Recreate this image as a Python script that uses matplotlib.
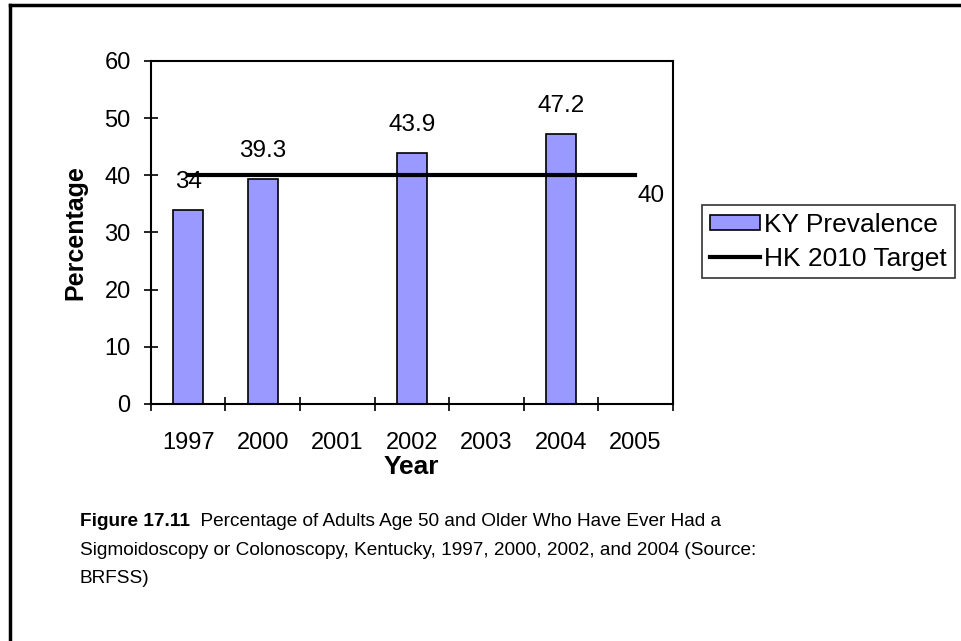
import matplotlib.pyplot as plt
import numpy as np

plt.rcParams['font.family'] = ['Liberation Sans', 'DejaVu Sans']

years = ['1997', '2000', '2001', '2002', '2003', '2004', '2005']
prevalence = [34, 39.3, None, 43.9, None, 47.2, None]
target = [40, 40, 40, 40, 40, 40, 40]
caption_bold = 'Figure 17.11'
caption_rest = '  Percentage of Adults Age 50 and Older Who Have Ever Had a'
caption_lines = ['Sigmoidoscopy or Colonoscopy, Kentucky, 1997, 2000, 2002, and 2004 (Source:',
                 'BRFSS)']

fig = plt.figure(figsize=(9.61, 6.41), dpi=100)

# outer frame (only top and left visible)
fig.add_artist(plt.Line2D([0.0105, 0.0105], [0, 0.992], color='black', lw=2.5))
fig.add_artist(plt.Line2D([0.0105, 1.0], [0.992, 0.992], color='black', lw=2.5))

ax = fig.add_axes([0.157, 0.370, 0.543, 0.535])
x = np.arange(len(years))

bar_x = [i for i, v in enumerate(prevalence) if v is not None]
bar_v = [v for v in prevalence if v is not None]
bars = ax.bar(bar_x, bar_v, width=0.4, color='#9999FF', edgecolor='black',
              linewidth=1.2, label='KY Prevalence', zorder=2)
line, = ax.plot(x, target, color='black', lw=3, label='HK 2010 Target', zorder=3)

for bx, bv in zip(bar_x, bar_v):
    lbl = str(int(bv)) if bv == int(bv) else str(bv)
    ax.annotate(lbl, (bx, bv), xytext=(0, 20), textcoords='offset points',
                ha='center', va='center', fontsize=17.5)
ax.annotate(str(target[-1]), (x[-1], target[-1]), xytext=(11.5, -15),
            textcoords='offset points', ha='center', va='center', fontsize=17.5)

ax.set_xlim(-0.5, len(years) - 0.5)
ax.set_ylim(0, 60)
ax.set_yticks(range(0, 61, 10))
ax.set_xticks(np.arange(-0.5, len(years), 1.0))
ax.set_xticklabels([])
ax.set_xticks(x, minor=True)
ax.set_xticklabels(years, minor=True)
ax.tick_params(axis='x', which='major', direction='inout', length=10, width=1.2)
ax.tick_params(axis='x', which='minor', length=0, pad=20, labelsize=17)
ax.tick_params(axis='y', direction='inout', length=10, width=1.2, pad=9.5,
               labelsize=17)
for s in ax.spines.values():
    s.set_linewidth(1.5)

ax.set_ylabel('Percentage', fontsize=18, fontweight='bold', labelpad=12)
ax.set_xlabel('Year', fontsize=19, fontweight='bold', labelpad=1)

leg = ax.legend([bars, line], ['KY Prevalence', 'HK 2010 Target'],
                loc='center left', bbox_to_anchor=(1.057, 0.472), fontsize=19,
                frameon=True, fancybox=False, edgecolor='black',
                handlelength=1.9, handleheight=0.5, handletextpad=0.15,
                borderpad=0.3, borderaxespad=0, labelspacing=0.35)
leg.get_frame().set_linewidth(1.2)

cap_size = 13.7
t = fig.text(0.083, 0.186, caption_bold, fontsize=cap_size, fontweight='bold',
             va='center')
fig.canvas.draw()
bb = t.get_window_extent()
x_end = bb.x1 / fig.bbox.width
fig.text(x_end, 0.186, caption_rest, fontsize=cap_size, va='center')
for i, s in enumerate(caption_lines):
    fig.text(0.083, 0.141 - 0.043 * i, s, fontsize=cap_size, va='center')

fig.savefig('out.png', dpi=100)
